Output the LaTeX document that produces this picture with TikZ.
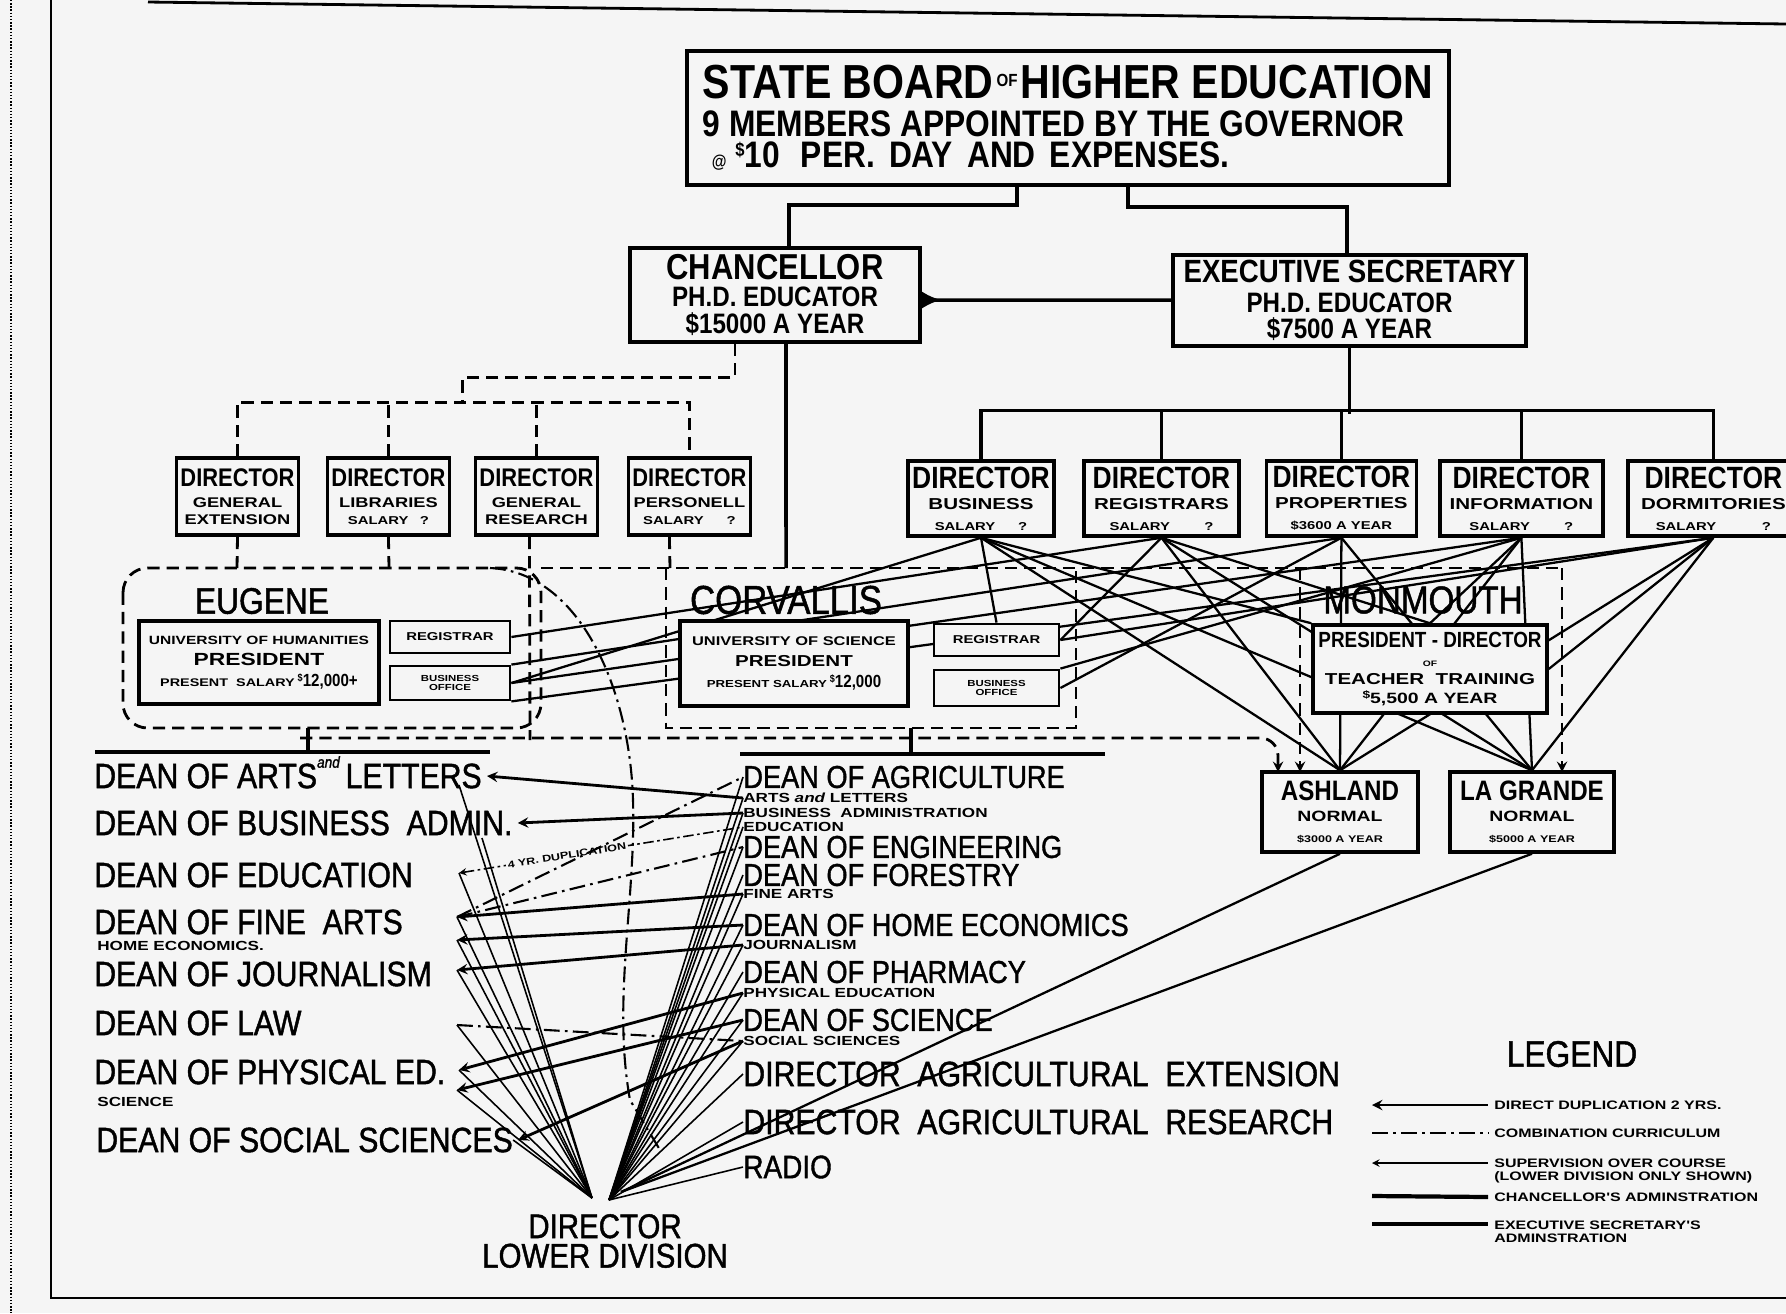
\documentclass[tikz,border=0pt]{standalone}
\usepackage{fontspec}
\setmainfont{Liberation Sans}[FakeStretch=0.86]
\newfontfamily\widefont{Liberation Sans}[FakeStretch=1.3]
\newfontfamily\deanfont{Liberation Sans}[FakeStretch=0.86, FakeBold=1.2]
\usetikzlibrary{arrows,arrows.meta,positioning}
\pgfdeclarelayer{paper}
\pgfdeclarelayer{wires}
\pgfsetlayers{paper,wires,main}
\newcommand{\fsz}[2]{\fontsize{#1}{#2}\selectfont}
\newcommand{\wf}[2]{\widefont\bfseries\fontsize{#1}{#2}\selectfont}
\newcommand{\dol}{\raisebox{.55ex}{\fsz{6}{6}\$}}
\tikzstyle{office} = [rectangle, draw=black, fill=black!4, line width=2pt, inner sep=0pt, align=center, font=\bfseries]
\tikzstyle{ldir} = [office, minimum width=2.44cm, minimum height=1.54cm, font=\bfseries\fsz{14.5}{10}]
\tikzstyle{rdir} = [office, minimum width=3cm, minimum height=1.5cm, font=\bfseries\fsz{17.5}{12}]
\tikzstyle{tinybox} = [office, line width=1.6pt, minimum width=2.4cm]
\tikzstyle{place} = [inner sep=0pt, font=\deanfont\fsz{20}{20}]
\tikzstyle{dean} = [anchor=west, inner sep=0pt, font=\deanfont\fsz{20}{20}]
\tikzstyle{rdean} = [dean, font=\deanfont\fsz{18}{18}]
\tikzstyle{sublabel} = [anchor=west, inner sep=0pt, font=\wf{7.5}{8}]
\tikzstyle{admin} = [line width=2pt]
\tikzstyle{exline} = [line width=1.3pt]
\tikzstyle{dashline} = [line width=1.6pt, dash pattern=on 7pt off 4pt]
\tikzstyle{combo} = [line width=1.2pt, dash pattern=on 9pt off 3pt on 1.5pt off 3pt]
\tikzstyle{dup} = [line width=1.6pt, <-, >=stealth]
\tikzstyle{fanline} = [line width=0.9pt]
\tikzstyle{arrow} = [->, >=stealth]
\tikzstyle{legtext} = [anchor=west, inner sep=0pt, align=left, font=\wf{7}{7.5}]

\begin{document}
\begin{tikzpicture}[x=0.02cm, y=-0.02cm, node distance=3.6cm]
	\useasboundingbox (0,0) rectangle (1786,1313);
	\begin{pgfonlayer}{paper}
		\fill [black!4] (0,0) rectangle (1786,1313);
	\end{pgfonlayer}
	% page frame
	\draw [line width=0.8pt, densely dotted] (11,0) -- (11,1313);
	\draw [line width=1.6pt] (148,2) -- (1786,24);
	\draw [line width=1.6pt] (51,0) -- (51,1298) -- (1786,1298);

	% top of the chart
	\node (board) [office, minimum width=15.24cm, minimum height=2.68cm, align=left, font=\bfseries\fsz{21}{17.6}] at (1068,118) {{\fsz{27.2}{27}STATE BOARD\raisebox{.5ex}{\fsz{10}{10}\,OF\,}HIGHER EDUCATION}\\[4pt]
		9 MEMBERS APPOINTED BY THE GOVERNOR\\
		\hspace*{5pt}{\fsz{10}{10}@}\ \raisebox{.6ex}{\fsz{11}{11}\$}10\hspace{12pt}PER.\hspace{8pt}DAY\hspace{8pt}AND\hspace{8pt}EXPENSES.};
	\node (chanc) [office, minimum width=5.8cm, minimum height=1.88cm, font=\bfseries\fsz{16}{15.5}] at (775,295) {{\fsz{20.5}{20}CHANCELLOR}\\PH.D. EDUCATOR\\\$15000 A YEAR};
	\node (exec) [office, minimum width=7.06cm, minimum height=1.82cm, font=\bfseries\fsz{16}{15}] at (1349.5,300.5) {{\fsz{18.3}{18}EXECUTIVE SECRETARY}\\[2pt]PH.D. EDUCATOR\\\$7500 A YEAR};

	% directors under the chancellor
	\node (dirext) [ldir] at (237.5,496.5) {DIRECTOR\\[2pt]{\wf{8}{9}GENERAL}\\{\wf{8}{9}EXTENSION}};
	\node (dirlib) [ldir, right of=dirext, xshift=-0.58cm] {DIRECTOR\\[2pt]{\wf{8}{9}LIBRARIES}\\{\wf{6.5}{9}SALARY\quad ?}};
	\node (dirres) [ldir, right of=dirlib, xshift=-0.64cm] {DIRECTOR\\[2pt]{\wf{8}{9}GENERAL}\\{\wf{8}{9}RESEARCH}};
	\node (dirper) [ldir, right of=dirres, xshift=-0.54cm] {DIRECTOR\\[2pt]{\wf{8}{9}PERSONELL}\\{\wf{6.5}{9}SALARY\qquad ?}};

	% directors under the executive secretary
	\node (dirbus) [rdir, minimum width=2.92cm] at (981,498.5) {DIRECTOR\\{\wf{9}{9}BUSINESS}\\{\wf{6.5}{7}SALARY\qquad ?}};
	\node (dirreg) [rdir, minimum width=3.1cm, right of=dirbus, xshift=0.01cm] {DIRECTOR\\{\wf{9}{9}REGISTRARS}\\{\wf{6.5}{7}SALARY\qquad\quad ?}};
	\node (dirprop) [rdir, right of=dirreg] {DIRECTOR\\{\wf{9}{9}PROPERTIES}\\{\wf{6.5}{7}\$3600 A YEAR}};
	\node (dirinfo) [rdir, minimum width=3.26cm, right of=dirprop] {DIRECTOR\\{\wf{9}{9}INFORMATION}\\{\wf{6.5}{7}SALARY\qquad\quad ?}};
	\node (dirdorm) [rdir, minimum width=3.42cm, right of=dirinfo, xshift=0.24cm] {DIRECTOR\\{\wf{9}{9}DORMITORIES}\\{\wf{6.5}{7}SALARY\qquad\qquad ?}};

	% the three campuses
	\node (eugene) [place, font=\deanfont\fsz{21}{21}] at (262,601) {EUGENE};
	\node (eugpres) [office, minimum width=4.8cm, minimum height=1.66cm] at (259,662.5) {{\wf{6.8}{8}UNIVERSITY OF HUMANITIES}\\{\wf{10}{12}PRESIDENT}\\{\wf{6.3}{9}PRESENT\ \ SALARY}\,{\fsz{10}{9}\dol12,000+}};
	\node (eugreg) [tinybox, minimum height=0.64cm] at (450,637) {\wf{6.5}{7}REGISTRAR};
	\node (eugbus) [tinybox, minimum height=0.68cm, font=\bfseries\fsz{5}{5.5}] at (450,683) {{\wf{5}{5.5}BUSINESS}\\{\wf{5}{5.5}OFFICE}};

	\node (corvallis) [place, font=\deanfont\fsz{23}{23}] at (786,600) {CORVALLIS};
	\node (corvpres) [office, minimum width=4.56cm, minimum height=1.7cm] at (794,663.5) {{\wf{7.2}{8}UNIVERSITY OF SCIENCE}\\{\wf{9}{12}PRESIDENT}\\{\wf{5.8}{9}PRESENT SALARY}\,{\fsz{10}{9}\dol12,000}};
	\node (corvreg) [tinybox, minimum width=2.5cm, minimum height=0.64cm] at (996.5,640) {\wf{6.5}{7}REGISTRAR};
	\node (corvbus) [tinybox, minimum width=2.5cm, minimum height=0.72cm, font=\bfseries\fsz{5}{5.5}] at (996.5,688) {{\wf{5}{5.5}BUSINESS}\\{\wf{5}{5.5}OFFICE}};

	\node (monmouth) [place, font=\deanfont\fsz{22}{22}] at (1423,600) {MONMOUTH};
	\node (monpres) [office, minimum width=4.68cm, minimum height=1.76cm, font=\bfseries\fsz{12.5}{10.5}] at (1430,669) {PRESIDENT - DIRECTOR\\{\wf{4.5}{6}OF}\\{\wf{9}{10}TEACHER\ \ TRAINING}\\{\wf{8.5}{10}\dol5,500 A YEAR}};

	\node (ashland) [office, minimum width=3.12cm, minimum height=1.6cm, font=\bfseries\fsz{16}{12}] at (1340,812) {ASHLAND\\{\wf{8.5}{10}NORMAL}\\{\wf{5.5}{7}\$3000 A YEAR}};
	\node (lagrande) [office, minimum width=3.28cm, minimum height=1.6cm, font=\bfseries\fsz{16}{12}] at (1532,812) {LA GRANDE\\{\wf{8.5}{10}NORMAL}\\{\wf{5.5}{7}\$5000 A YEAR}};

	% deans of the university of humanities
	\node (dArts) [dean] at (94,776) {DEAN OF ARTS\smash{\raisebox{1.1ex}{\fsz{9}{9}\itshape and}}\,LETTERS};
	\node (dBus) [dean] at (94,823) {DEAN OF BUSINESS\ \ ADMIN.};
	\node (dEdu) [dean] at (94,875) {DEAN OF EDUCATION};
	\node (dFine) [dean] at (94,922) {DEAN OF FINE\ \ ARTS};
	\node (sHome) [sublabel] at (97,946) {HOME ECONOMICS.};
	\node (dJour) [dean] at (94,974) {DEAN OF JOURNALISM};
	\node (dLaw) [dean] at (94,1023) {DEAN OF LAW};
	\node (dPhys) [dean] at (94,1072) {DEAN OF PHYSICAL ED.};
	\node (sSci) [sublabel] at (97,1102) {SCIENCE};
	\node (dSoc) [dean] at (96,1140) {DEAN OF SOCIAL SCIENCES};

	% deans of the university of science
	\node (rAgri) [rdean] at (743,777) {DEAN OF AGRICULTURE};
	\node (sArts) [sublabel] at (743,798) {ARTS {\itshape and} LETTERS};
	\node (sBus) [sublabel] at (743,813) {BUSINESS\ \ ADMINISTRATION};
	\node (sEdu) [sublabel] at (743,827) {EDUCATION};
	\node (rEng) [rdean] at (743,847) {DEAN OF ENGINEERING};
	\node (rFor) [rdean] at (743,875) {DEAN OF FORESTRY};
	\node (sFine) [sublabel] at (743,894) {FINE ARTS};
	\node (rHome) [rdean] at (743,925) {DEAN OF HOME ECONOMICS};
	\node (sJour) [sublabel] at (743,945) {JOURNALISM};
	\node (rPharm) [rdean] at (743,972) {DEAN OF PHARMACY};
	\node (sPhys) [sublabel] at (743,993) {PHYSICAL EDUCATION};
	\node (rSci) [rdean] at (743,1020) {DEAN OF SCIENCE};
	\node (sSoc) [sublabel] at (743,1041) {SOCIAL SCIENCES};
	\node (rExt) [dean] at (743,1074) {DIRECTOR\ \ AGRICULTURAL\ \ EXTENSION};
	\node (rRes) [dean] at (743,1122) {DIRECTOR\ \ AGRICULTURAL\ \ RESEARCH};
	\node (rRadio) [rdean, font=\deanfont\fsz{18.5}{18}] at (743,1167) {RADIO};

	\node (lowdiv) [place, align=center, font=\deanfont\fsz{19.5}{16.8}] at (605,1241) {DIRECTOR\\LOWER DIVISION};
	\coordinate (lowL) at (592,1198);
	\coordinate (lowR) at (609,1200);
	\coordinate (lowA) at (621,1192);

	% legend
	\node (legend) [place, font=\deanfont\fsz{21}{21}] at (1572,1054) {LEGEND};
	\node (legdup) [legtext] at (1494,1105) {DIRECT DUPLICATION 2 YRS.};
	\node (legcombo) [legtext] at (1494,1133) {COMBINATION CURRICULUM};
	\node (legsup) [legtext] at (1494,1171) {SUPERVISION OVER COURSE\\(LOWER DIVISION ONLY SHOWN)};
	\node (legchanc) [legtext] at (1494,1197) {CHANCELLOR'S ADMINSTRATION};
	\node (legexec) [legtext] at (1494,1232) {EXECUTIVE SECRETARY'S\\ADMINSTRATION};
	\coordinate (lg1) at (1372,1105);
	\coordinate (lg2) at (1372,1133);
	\coordinate (lg3) at (1372,1163);
	\coordinate (lg4) at (1372,1196);
	\coordinate (lg5) at (1372,1224);
	\draw [dup] (lg1) -- ([xshift=-0.12cm]legdup.west);
	\draw [combo] (lg2) -- ([xshift=-0.12cm]legcombo.west);
	\draw [fanline, <-, >=stealth] (lg3) -- ([xshift=-0.12cm]lg3 -| legsup.west);
	\draw [admin, line width=2.4pt] (lg4) -- ([xshift=-0.12cm]legchanc.west);
	\draw [admin, line width=2.4pt] (lg5) -- ([xshift=-0.12cm]lg5 -| legexec.west);

	\begin{pgfonlayer}{wires}
	% board, chancellor and executive secretary
	\draw [admin] ([xshift=-1.02cm]board.south) -- ++(0,18) -| ([xshift=0.28cm]chanc.north);
	\draw [admin] ([xshift=1.2cm]board.south) -- ++(0,20) -| ([xshift=-0.05cm]exec.north);
	\draw [admin, {Latex[reversed, length=11pt, width=10pt]}-] ([yshift=-0.1cm]chanc.east) -- (exec.west |- 0,300);
	\draw [dashline] ([xshift=-0.8cm]chanc.south) -- ++(0,34) -| ([xshift=1.48cm]dirlib.north |- 0,404);
	\draw [dashline] (dirext.north) -- ++(0,-54) -| (dirper.north);
	\draw [dashline] (dirlib.north) -- ++(0,-54);
	\draw [dashline] (dirres.north) -- ++(0,-54);
	\draw [admin] (exec.south) -- ++(0,66);
	\draw [admin] (dirbus.north) -- ++(0,-49) -| (dirdorm.north);
	\foreach \d in {dirreg,dirprop,dirinfo}
		\draw [admin] (\d.north) -- ++(0,-49);
	\draw [admin] ([xshift=0.22cm]chanc.south) -- (786,568);

	% campus groups
	\draw [dashline, rounded corners=14pt] (123,568) rectangle (541,728);
	\draw [dashline] (541,568) -- (1562,568);
	\draw [dashline] (666,568) -- (666,728) -- (1076,728) -- (1076,568);
	\draw [dashline, arrow] (1300,568) -- (1300,772);
	\draw [dashline, arrow] (1562,568) -- (1562,772);
	\draw [dashline, arrow, rounded corners=10pt] (300,738) -| (1278,772);
	\draw [dashline] (dirext.south) -- (237,568);
	\draw [dashline] (dirlib.south) -- (389,568);
	\draw [dashline] ([xshift=-0.14cm]dirres.south) -- (530,740);
	\draw [dashline] ([xshift=-0.4cm]dirper.south) -- (670,568);
	\draw [combo] (490,568) .. controls (580,572) and (630,690) .. (633,800) .. controls (636,900) and (612,1000) .. (630,1100) -- (660,1150);

	% lines to the dean lists
	\draw [admin] (95,752) -- (490,752);
	\draw [admin] (308,728) -- (308,752);
	\draw [admin] (740,754) -- (1105,754);
	\draw [admin] (911,728) -- (911,754);

	% executive secretary's directors to the campuses
	\foreach \d/\t in {dirbus/eugbus.east, dirreg/eugreg.east, dirprop/eugbus.north east, dirinfo/eugbus.east, dirdorm/eugbus.south east,
			dirbus/corvreg.north, dirreg/corvreg.east, dirprop/corvbus.east, dirinfo/corvbus.north east, dirdorm/corvreg.east,
			dirbus/monpres.north west, dirreg/monpres.north, dirinfo/monpres.north, dirdorm/monpres.east,
			dirbus/ashland.north, dirreg/ashland.north, dirprop/ashland.north, dirinfo/ashland.north, dirdorm/ashland.north,
			dirbus/lagrande.north, dirreg/lagrande.north, dirprop/lagrande.north, dirinfo/lagrande.north, dirdorm/lagrande.north}
		\draw [exline] (\d.south) -- (\t);

	% duplication between the deans
	\coordinate (kArts) at (459,785);
	\coordinate (kBus) at (482,838);
	\coordinate (kEdu) at (459,873);
	\coordinate (kFine) at (457,917);
	\coordinate (kHome) at (457,940);
	\coordinate (kJour) at (457,970);
	\coordinate (kLaw) at (457,1025);
	\coordinate (kPhys) at (459,1070);
	\coordinate (kSci) at (457,1090);
	\draw [dup] ([xshift=0.1cm]dArts.east) -- (sArts.west);
	\draw [dup] ([xshift=0.1cm]dBus.east) -- (sBus.west);
	\draw [dup, line width=0.9pt, dash pattern=on 6pt off 2pt on 1.5pt off 2pt] (kEdu) -- (sEdu.west)
		node [pos=0.38, sloped, fill=black!4, inner sep=1pt, font=\wf{5.5}{5.5}] {4 YR. DUPLICATION};
	\draw [dup] (kFine) -- (sFine.west);
	\draw [dup] (kHome) -- (rHome.west);
	\draw [dup] (kJour) -- (sJour.west);
	\draw [dup] (kPhys) -- (sPhys.west);
	\draw [dup] (kSci) -- (rSci.west);
	\draw [dup] ([xshift=0.1cm]dSoc.east) -- (sSoc.west);
	\draw [combo] (kFine) -- (rAgri.west);
	\draw [combo] (kFine) -- (rEng.west);
	\draw [combo] (kLaw) -- (sSoc.west);

	% the lower division fan
	\foreach \k in {kArts, kBus, kEdu, kFine, kHome, kJour, kLaw, kPhys, kSci, dSoc.east}
		\draw [fanline] (\k) -- (lowL);
	\foreach \r in {rAgri, sArts, sBus, sEdu, rEng, rFor, sFine, rHome, sJour, rPharm, sPhys, rSci, sSoc, rExt, rRes, rRadio}
		\draw [fanline] (lowR) -- (\r.west);
	\draw [exline] (lowA) -- (ashland.south);
	\draw [exline] (lowA) -- (lagrande.south);
	\end{pgfonlayer}
\end{tikzpicture}
\end{document}
